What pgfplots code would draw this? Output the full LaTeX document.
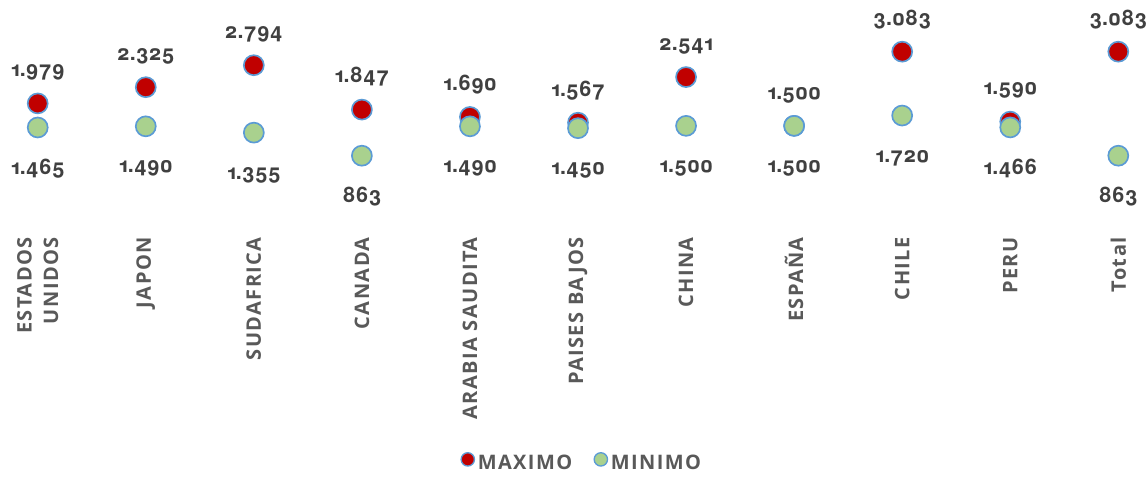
\documentclass[border=0pt]{standalone}
\usepackage{fontspec}
\setmainfont{Open Sans}
\newfontfamily\labfont{Open Sans}[LetterSpace=7]
\newfontfamily\numfont{TeX Gyre Heros}[Numbers=OldStyle]
\usepackage{pgfplots}
\pgfplotsset{compat=1.18}
\definecolor{maxred}{HTML}{C00000}
\definecolor{mingreen}{HTML}{A9D18E}
\definecolor{edgeblue}{HTML}{5B9BD5}
\definecolor{labgray}{HTML}{595959}
\definecolor{numgray}{HTML}{404040}
\begin{document}
\begin{tikzpicture}
\begin{axis}[
  scale only axis,
  width=861pt, height=147.1pt,
  xmin=-0.349, xmax=10.275,
  ymin=0, ymax=4186,
  axis line style={draw=none},
  major tick length=0pt,
  ytick=\empty,
  xtick={0,...,10},
  xticklabels={{ESTADOS\\UNIDOS},JAPON,SUDAFRICA,CANADA,ARABIA\hspace{5pt}SAUDITA,PAISES\hspace{5pt}BAJOS,CHINA,ESPAÑA,CHILE,PERU,Total},
  xticklabel shift=30.7pt,
  xticklabel style={rotate=90, anchor=east, inner sep=0pt, align=right,
    font=\labfont\fontsize{15}{20}\selectfont\bfseries, text=labgray},
  clip=false,
  legend style={at={(0.507,-1.361)}, anchor=center, draw=none, fill=none,
    legend columns=2, font=\labfont\fontsize{15}{20}\selectfont\bfseries, text=labgray,
    /tikz/every even column/.append style={column sep=14pt}},
]
\addplot[only marks, mark=*, mark size=7.5pt,
  mark options={fill=maxred, draw=edgeblue, line width=1.25pt},
  nodes near coords={\pgfmathprintnumber[fixed, precision=0, 1000 sep={.}, assume math mode=true]{\pgfplotspointmeta}},
  every node near coord/.append style={anchor=base, yshift=20pt, font=\numfont\fontsize{16}{20}\selectfont\bfseries, text=numgray},
  legend image code/.code={\draw[fill=maxred, draw=edgeblue, line width=1pt] (0.15cm,0.1cm) circle (5pt);}
] coordinates {
(0,1979) (1,2325) (2,2794) (3,1847) (4,1690) (5,1567) (6,2541) (7,1500) (8,3083) (9,1590) (10,3083)
};
\addlegendentry{MAXIMO}
\addplot[only marks, mark=*, mark size=7.5pt,
  mark options={fill=mingreen, draw=edgeblue, line width=1.25pt},
  nodes near coords={\pgfmathprintnumber[fixed, precision=0, 1000 sep={.}, assume math mode=true]{\pgfplotspointmeta}},
  every node near coord/.append style={anchor=base, yshift=-35pt, font=\numfont\fontsize{16}{20}\selectfont\bfseries, text=numgray},
  legend image code/.code={\draw[fill=mingreen, draw=edgeblue, line width=1pt] (0.15cm,0.1cm) circle (5pt);}
] coordinates {
(0,1465) (1,1490) (2,1355) (3,863) (4,1490) (5,1450) (6,1500) (7,1500) (8,1720) (9,1466) (10,863)
};
\addlegendentry{MINIMO}
\end{axis}
\pgfresetboundingbox
\useasboundingbox (0,-210.7pt) rectangle (861pt,147.1pt);
\end{tikzpicture}
\end{document}
